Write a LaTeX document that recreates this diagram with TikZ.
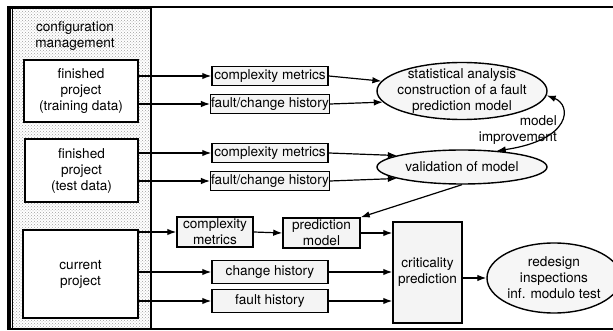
\documentclass[tikz,border=0pt]{standalone}
\usepackage{fontspec}
\setmainfont{TeX Gyre Heros}
\usetikzlibrary{arrows.meta,patterns,shapes.geometric}
\begin{document}
\begin{tikzpicture}[x=1pt,y=-1pt,
  font=\fontsize{13.6}{16}\selectfont,
  arr/.style={-{Latex[length=9pt,width=6.5pt]},line width=1.2pt},
  projbox/.style={draw,line width=1.4pt,fill=white,align=center,inner sep=0pt},
  databox/.style={draw,line width=1.5pt,fill=gray!9,align=center,inner sep=0.3pt,
    minimum width=116pt,minimum height=19pt},
  oval/.style={ellipse,draw,line width=1.4pt,fill=gray!7,inner sep=0pt},
  ovaltext/.style={align=center,inner sep=0pt},
]
\clip (0,0) rectangle (613,331);
\fill[white] (0,0) rectangle (613,331);

% outer frame
\draw[line width=1.1pt] (8,7) rectangle (640,329);

% configuration management panel
\node[draw,line width=1.7pt,pattern=crosshatch dots,pattern color=gray!75,
  minimum width=141pt,minimum height=321pt,inner sep=0pt] (cfg) at (80.5,168.5) {};
\draw[line width=0.8pt] ([xshift=3.5pt]cfg.north west) -- ([xshift=3.5pt]cfg.south west);
\node[align=center,inner sep=1pt] (cfgtext) at (75,36) {configuration\\management};

% projects
\node[projbox,minimum width=114pt,minimum height=62pt] (fp1) at (81,91)
  {finished\\project\\(training data)};
\node[projbox,minimum width=113pt,minimum height=63pt] (fp2) at (81.5,170.5)
  {finished\\project\\(test data)};
\node[projbox,minimum width=115pt,minimum height=88pt] (cp) at (80.5,274)
  {current\\project};

% collected data
\node[databox] (cm1) at (270,76) {complexity metrics};
\node[databox] (fc1) at (270,104) {fault/change history};
\node[databox] (cm2) at (270,153) {complexity metrics};
\node[databox] (fc2) at (270,181) {fault/change history};
\node[databox,minimum height=23pt] (ch) at (270,272) {change history};
\node[databox,minimum height=23pt] (fh) at (270,301) {fault history};
\node[databox,minimum width=76pt,minimum height=30pt] (cm3) at (215,232)
  {complexity\\metrics};
\node[databox,minimum width=77pt,minimum height=30pt] (pm) at (321.5,233)
  {prediction\\model};
\node[databox,minimum width=69pt,minimum height=101pt] (crit) at (427.5,272.5)
  {criticality\\prediction};

% analysis steps
\node[oval,minimum width=170pt,minimum height=57pt] (e1) at (462,91) {};
\node[ovaltext] (e1t) at (e1.center)
  {statistical analysis\\construction of a fault\\prediction model};
\node[oval,minimum width=170pt,minimum height=34pt] (e2) at (462,167) {};
\node[ovaltext] (e2t) at (e2.center) {validation of model};
\node[oval,minimum width=134pt,minimum height=70pt] (e3) at (554,278) {};
\node[ovaltext] (e3t) at (e3.center) {redesign\\inspections\\inf. modulo test};

% data flow
\draw[arr] (fp1.east |- cm1) -- (cm1.west);
\draw[arr] (fp1.east |- fc1) -- (fc1.west);
\draw[arr] (fp2.east |- cm2) -- (cm2.west);
\draw[arr] (fp2.east |- fc2) -- (fc2.west);
\draw[arr] (cp.east |- cm3) -- (cm3.west);
\draw[arr] (cp.east |- ch) -- (ch.west);
\draw[arr] (cp.east |- fh) -- (fh.west);

\draw[arr] (cm1.east) -- (e1.173);
\draw[arr] (fc1.east) -- (e1.188);
\draw[arr] (cm2.east) -- (e2.170);
\draw[arr] (fc2.east) -- (e2.190);

\draw[arr] (cm3.east) -- (pm.west);
\draw[arr] (e2.south) -- (pm.north east);
\draw[arr] (pm.east) -- (crit.west |- pm.east);
\draw[arr] (ch.east) -- (crit.west |- ch.east);
\draw[arr] (fh.east) -- (crit.west |- fh.east);
\draw[arr] (crit.east |- e3.west) -- (e3.west);

% feedback loop
\draw[{Latex[length=9pt,width=6.5pt]}-{Latex[length=9pt,width=6.5pt]},line width=1.2pt]
  (e1.-3) .. controls (572,105) and (572,140) .. (e2.25);
\node[align=right,anchor=east,inner sep=0pt] (mi) at (557,130) {model\\improvement};
\end{tikzpicture}
\end{document}
